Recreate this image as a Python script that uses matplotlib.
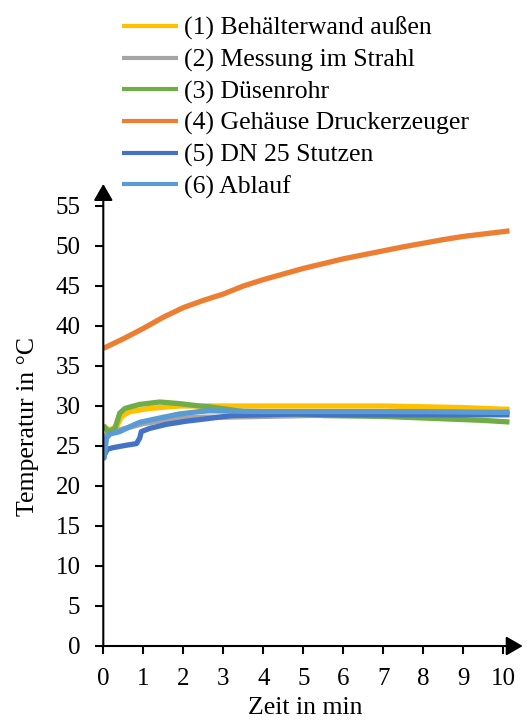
import matplotlib
matplotlib.use("Agg")
import matplotlib.pyplot as plt

plt.rcParams['font.family'] = ['Liberation Serif', 'DejaVu Serif']

# ---- data ----
labels = ["(1) Behälterwand außen", "(2) Messung im Strahl", "(3) Düsenrohr",
          "(4) Gehäuse Druckerzeuger", "(5) DN 25 Stutzen", "(6) Ablauf"]
colors = ["#FFC000", "#A5A5A5", "#70AD47", "#ED7D31", "#4472C4", "#5B9BD5"]

t1 = [0, 0.17, 0.33, 0.46, 0.66, 1.16, 1.9, 3, 4, 5, 6, 7, 8, 9, 10, 10.15]
y1 = [27.4, 27.0, 27.4, 28.7, 29.3, 29.7, 30.0, 30.0, 30.0, 30.0, 30.0, 30.0, 29.9, 29.8, 29.6, 29.6]

t2 = [0, 0.1, 0.4, 0.7, 1.0, 1.5, 2, 2.5, 3, 4, 5, 6, 7, 8, 9, 10, 10.15]
y2 = [26.0, 26.5, 27.0, 27.4, 27.8, 28.2, 28.5, 28.6, 28.6, 28.7, 28.8, 28.9, 28.9, 28.9, 29.0, 29.2, 29.3]

t3 = [0, 0.12, 0.29, 0.41, 0.54, 0.91, 1.41, 1.9, 2.4, 2.65, 3.5, 4.5, 5.5, 7, 8.5, 9.5, 10.15]
y3 = [27.6, 26.8, 27.2, 29.1, 29.7, 30.2, 30.5, 30.3, 30.0, 29.9, 29.3, 29.1, 28.8, 28.7, 28.4, 28.2, 28.0]

t4 = [0, 0.5, 1, 1.5, 2, 2.5, 3, 3.5, 4, 4.5, 5, 5.5, 6, 6.5, 7, 7.5, 8, 8.5, 9, 9.5, 10, 10.15]
y4 = [37.2, 38.4, 39.7, 41.1, 42.3, 43.2, 44.0, 45.0, 45.8, 46.5, 47.2, 47.8, 48.4, 48.9, 49.4, 49.9, 50.35, 50.8, 51.2, 51.5, 51.8, 51.9]

t5 = [0, 0.02, 0.1, 0.25, 0.58, 0.83, 0.91, 0.95, 1.16, 1.57, 2.07, 2.57, 3.2, 4.8, 6, 7, 8, 9, 10, 10.15]
y5 = [24.3, 23.8, 24.6, 24.8, 25.1, 25.3, 26.0, 26.8, 27.2, 27.7, 28.1, 28.4, 28.8, 29.0, 28.9, 28.9, 28.9, 28.9, 28.9, 28.9]

t6 = [0, 0.02, 0.05, 0.08, 0.17, 0.41, 0.66, 0.91, 1.41, 1.9, 2.4, 2.65, 4, 6, 8, 10, 10.15]
y6 = [24.5, 23.5, 24.75, 26.0, 26.5, 26.8, 27.4, 27.96, 28.5, 29.0, 29.3, 29.4, 29.3, 29.3, 29.3, 29.2, 29.2]

series_t = [t1, t2, t3, t4, t5, t6]
series_y = [y1, y2, y3, y4, y5, y6]

xticks = list(range(0, 11))
yticks = list(range(0, 56, 5))

W, H = 528, 722
fig = plt.figure(figsize=(W / 100, H / 100), dpi=100)
x0, x1 = 103.3, 522.7
y0, y1p = 646, 184
ax = fig.add_axes([x0 / W, 1 - y0 / H, (x1 - x0) / W, (y0 - y1p) / H])
ax.set_xlim(0, 10.48)
ax.set_ylim(0, 57.75)

lines = []
for tt, yy, c, lab in zip(series_t, series_y, colors, labels):
    ln, = ax.plot(tt, yy, color=c, lw=3.8, label=lab, solid_capstyle='butt')
    lines.append(ln)

for s in ax.spines.values():
    s.set_visible(False)

arrow = dict(arrowstyle='-|>,head_length=10,head_width=5.8', mutation_scale=1,
             lw=1.5, color='black', shrinkA=0, shrinkB=0)
ax.annotate('', xy=(1, 0), xytext=(0, 0), xycoords='axes fraction',
            textcoords='axes fraction', arrowprops=arrow, annotation_clip=False)
ax.annotate('', xy=(0, 1), xytext=(0, 0), xycoords='axes fraction',
            textcoords='axes fraction', arrowprops=arrow, annotation_clip=False)

ax.set_xticks(xticks)
ax.set_yticks(yticks)
ax.tick_params(axis='both', direction='out', length=5.5, width=1.5, labelsize=18)
ax.tick_params(axis='y', pad=11)
ax.tick_params(axis='x', pad=10)

fig.text(28 / W, 1 - 427 / H, "Temperatur in °C", rotation=90, ha='center', va='center', fontsize=18.5)
fig.text(305 / W, 1 - 708 / H, "Zeit in min", ha='center', va='center', fontsize=18.5)

leg = fig.legend(handles=lines, loc='upper left', bbox_to_anchor=(122 / W, 1 - 17 / H),
                 frameon=False, fontsize=18.5, handlelength=2.18, handletextpad=0.23,
                 labelspacing=0.32, borderpad=0, borderaxespad=0)
for lh in leg.get_lines():
    lh.set_linewidth(3)

fig.savefig("out.png", dpi=100)
